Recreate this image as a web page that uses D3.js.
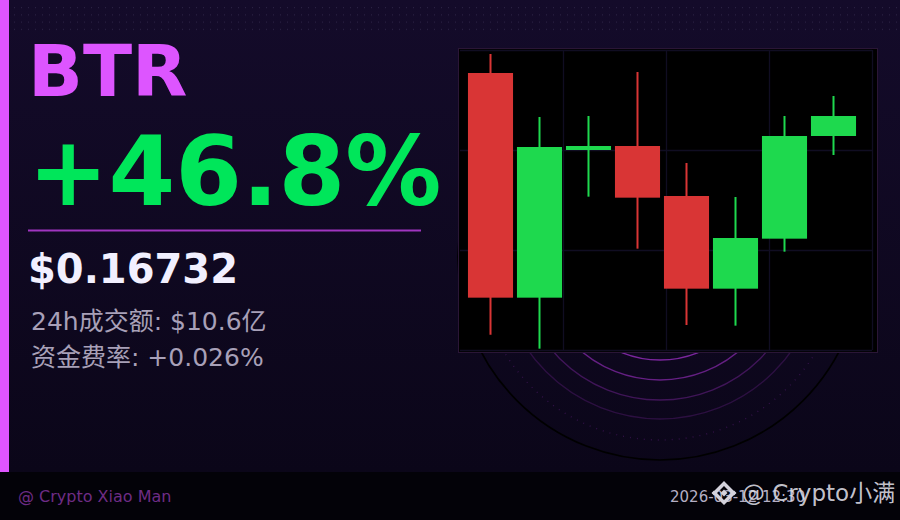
<!DOCTYPE html>
<html><head><meta charset="utf-8">
<script src="https://cdn.jsdelivr.net/npm/d3@7"></script>
<style>html,body{margin:0;padding:0;background:#0d0820;}svg{display:block;}</style>
</head><body>
<svg id="c" width="900" height="520"></svg>
<script>
// ---- data ----
const symbol = "BTR";
const changeText = "+46.8%";
const priceText = "$0.16732";
const volumeText = "24h成交额: $10.6亿";
const fundingText = "资金费率: +0.026%";
const footerLeft = "@ Crypto Xiao Man";
const dateText = "2026-03-12 12:30";
const watermark = "@ Crypto小满";
const periods = ["P1","P2","P3","P4","P5","P6","P7","P8"];
const opens  = [0.1831, 0.1157, 0.1600, 0.1612, 0.1462, 0.1184, 0.1334, 0.1642];
const highs  = [0.1888, 0.1699, 0.1702, 0.1834, 0.1561, 0.1459, 0.1702, 0.1762];
const lows   = [0.1046, 0.1004, 0.1460, 0.1304, 0.1075, 0.1073, 0.1295, 0.1585];
const closes = [0.1157, 0.1609, 0.1612, 0.1457, 0.1184, 0.1336, 0.1642, 0.1702];
const priceGrid = [0.10, 0.13, 0.16, 0.19];
const timeGrid = [0, 1, 2, 3, 4];

const svg = d3.select("#c");
const defs = svg.append("defs");
const bg = defs.append("linearGradient").attr("id","bg").attr("x1",0).attr("y1",0).attr("x2",0).attr("y2",1);
bg.append("stop").attr("offset","0%").attr("stop-color","#140b2a");
bg.append("stop").attr("offset","100%").attr("stop-color","#0b0619");
const pat = defs.append("pattern").attr("id","dots").attr("patternUnits","userSpaceOnUse")
  .attr("width",7).attr("height",7.2);
pat.append("rect").attr("x",0).attr("y",0).attr("width",1).attr("height",1).attr("fill","#2e2548");

svg.append("rect").attr("width",900).attr("height",472).attr("fill","url(#bg)");
svg.append("rect").attr("x",14).attr("y",7).attr("width",884).attr("height",26).attr("fill","url(#dots)");

// background rings
const cx = 660, cy = 258;
const rings = [
  {r:102, op:0.75, dash:null, col:"#a030c8"},
  {r:122, op:0.6, dash:null, col:"#a030c8"},
  {r:142, op:0.35, dash:null, col:"#a030c8"},
  {r:161, op:0.22, dash:null, col:"#a030c8"},
  {r:182, op:0.25, dash:"1 6", col:"#a030c8"},
  {r:202, op:1, dash:null, col:"#000000"}
];
svg.append("g").selectAll("circle").data(rings).join("circle")
  .attr("cx",cx).attr("cy",cy).attr("r",d=>d.r)
  .attr("fill","none").attr("stroke",d=>d.col).attr("stroke-opacity",d=>d.op)
  .attr("stroke-width",d=>d.r===202?1.6:1.4).attr("stroke-dasharray",d=>d.dash);

// left accent
svg.append("rect").attr("x",0).attr("y",0).attr("width",9).attr("height",472).attr("fill","#df55ff");

// footer
svg.append("rect").attr("x",0).attr("y",472).attr("width",900).attr("height",48).attr("fill","#030208");

const font = "'DejaVu Sans','Noto Sans CJK SC',sans-serif";
svg.append("text").attr("x",28).attr("y",96).attr("font-family",font).attr("font-weight","bold")
  .attr("font-size",72).attr("fill","#dd55ff").text(symbol);
svg.append("text").attr("x",28).attr("y",205).attr("font-family",font).attr("font-weight","bold")
  .attr("font-size",96).attr("fill","#00e65a").text(changeText);
svg.append("line").attr("x1",28).attr("x2",421).attr("y1",230.5).attr("y2",230.5)
  .attr("stroke","#a035c0").attr("stroke-width",2);
svg.append("text").attr("x",28).attr("y",283).attr("font-family",font).attr("font-weight","bold")
  .attr("font-size",40).attr("fill","#f2f0ff").text(priceText);
svg.append("text").attr("x",31).attr("y",330).attr("font-family",font)
  .attr("font-size",25).attr("fill","#a8a0b8").text(volumeText);
svg.append("text").attr("x",31).attr("y",366).attr("font-family",font)
  .attr("font-size",25).attr("fill","#a8a0b8").text(fundingText);

svg.append("text").attr("x",18).attr("y",502).attr("font-family",font)
  .attr("font-size",16).attr("fill","#6e2c85").text(footerLeft);
svg.append("text").attr("x",670).attr("y",502).attr("font-family",font)
  .attr("font-size",15).attr("fill","#b4aec4").text(dateText);

// candlestick chart
const frame = {x:458.5, y:48.5, w:419, h:304};
svg.append("rect").attr("x",frame.x).attr("y",frame.y).attr("width",frame.w).attr("height",frame.h)
  .attr("fill","#000").attr("stroke","#2a1636").attr("stroke-width",1);

const y = d3.scaleLinear().domain([0.10, 0.19]).range([350, 50]);
const gx = d3.scaleLinear().domain([0, 4]).range([460, 872]);
const x = d3.scaleBand().domain(periods).range([466, 858]).paddingInner(0.08).paddingOuter(0.04);

const gridG = svg.append("g");
gridG.append("g").attr("transform","translate(460,0)")
  .call(d3.axisLeft(y).tickValues(priceGrid).tickSize(-412).tickFormat(""))
  .call(g=>g.select(".domain").remove())
  .call(g=>g.selectAll("line").attr("stroke","#100d22").attr("stroke-width",1.3));
gridG.append("g").attr("transform","translate(0,350)")
  .call(d3.axisBottom(gx).tickValues(timeGrid.slice(1)).tickSize(-300).tickFormat(""))
  .call(g=>g.select(".domain").remove())
  .call(g=>g.selectAll("line").attr("stroke","#100d22").attr("stroke-width",1.3));

const candles = periods.map((p,i)=>({p, o:opens[i], h:highs[i], l:lows[i], c:closes[i]}));
const up = "#1ed94e", down = "#d93535";
const cg = svg.append("g").selectAll("g").data(candles).join("g");
cg.append("line")
  .attr("x1",d=>x(d.p)+x.bandwidth()/2).attr("x2",d=>x(d.p)+x.bandwidth()/2)
  .attr("y1",d=>y(d.h)).attr("y2",d=>y(d.l))
  .attr("stroke",d=>d.c>=d.o?up:down).attr("stroke-width",2);
cg.append("rect")
  .attr("x",d=>x(d.p)).attr("width",x.bandwidth())
  .attr("y",d=>y(Math.max(d.o,d.c)))
  .attr("height",d=>Math.max(2, Math.abs(y(d.o)-y(d.c))))
  .attr("fill",d=>d.c>=d.o?up:down);

// watermark with logo
const logo = svg.append("g").attr("transform","translate(724,493)").attr("fill","#d4d2dc");
const dia = (cx,cy,s)=>`M${cx},${cy-s}L${cx+s},${cy}L${cx},${cy+s}L${cx-s},${cy}Z`;
logo.append("path").attr("d", dia(0,0,12)+" "+dia(0,0,7)).attr("fill-rule","evenodd");
logo.append("path").attr("d", dia(0,0,3.5));
logo.append("path").attr("d", dia(-10,0,2.5));
logo.append("path").attr("d", dia(10,0,2.5));
svg.append("text").attr("x",742).attr("y",501).attr("font-family",font)
  .attr("font-size",23).attr("fill","#dcdce4").attr("fill-opacity",0.9).text(watermark);
</script>
</body></html>
